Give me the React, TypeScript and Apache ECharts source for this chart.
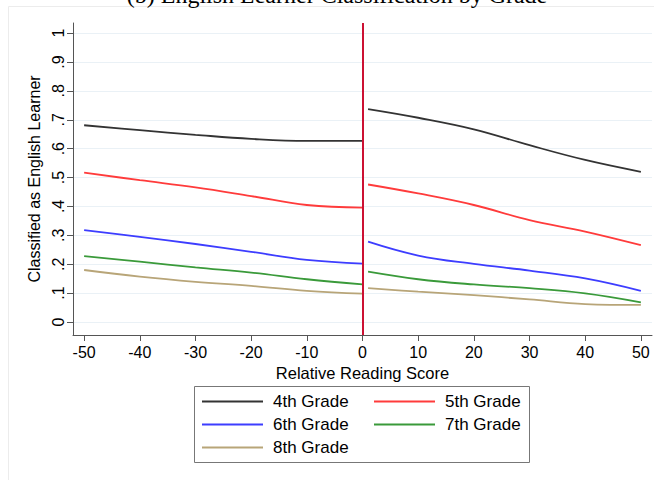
import React, { useEffect, useRef } from "react";
import * as echarts from "echarts";

// Running-variable positions on each side of the cutoff
const xLeft = [-50, -40, -30, -20, -10, 0];
const xRight = [1, 10, 20, 30, 40, 50];

// Share classified as English learner, by grade (left / right of cutoff)
const grade4Left = [0.681, 0.664, 0.648, 0.634, 0.627, 0.627];
const grade4Right = [0.737, 0.707, 0.667, 0.612, 0.561, 0.52];
const grade5Left = [0.517, 0.491, 0.466, 0.436, 0.405, 0.396];
const grade5Right = [0.476, 0.445, 0.405, 0.353, 0.313, 0.266];
const grade6Left = [0.318, 0.295, 0.27, 0.243, 0.215, 0.202];
const grade6Right = [0.278, 0.23, 0.201, 0.178, 0.151, 0.108];
const grade7Left = [0.228, 0.209, 0.189, 0.171, 0.148, 0.13];
const grade7Right = [0.174, 0.148, 0.13, 0.117, 0.099, 0.068];
const grade8Left = [0.18, 0.157, 0.139, 0.125, 0.108, 0.098];
const grade8Right = [0.117, 0.105, 0.093, 0.078, 0.062, 0.059];

const gradeNames = ["4th Grade", "5th Grade", "6th Grade", "7th Grade", "8th Grade"];
const gradeColors = ["#333333", "#ff3b3b", "#3d3dff", "#3a9a3a", "#b8a578"];

const xTicks = [-50, -40, -30, -20, -10, 0, 10, 20, 30, 40, 50];
const yTicks = [0, 0.1, 0.2, 0.3, 0.4, 0.5, 0.6, 0.7, 0.8, 0.9, 1];
const yTickLabels = ["0", ".1", ".2", ".3", ".4", ".5", ".6", ".7", ".8", ".9", "1"];

const titleText = "(b) English Learner Classification by Grade";
const xTitle = "Relative Reading Score";
const yTitle = "Classified as English Learner";

const FONT = "'Liberation Sans', Arial, sans-serif";

function pairs(xs: number[], ys: number[]) {
  return xs.map((x, i) => [x, ys[i]]);
}

export default function App() {
  const ref = useRef<HTMLDivElement>(null);

  useEffect(() => {
    if (!ref.current) return;
    const chart = echarts.init(ref.current, undefined, { renderer: "svg" });

    const sides: [number[], number[]][] = [
      [grade4Left, grade4Right],
      [grade5Left, grade5Right],
      [grade6Left, grade6Right],
      [grade7Left, grade7Right],
      [grade8Left, grade8Right],
    ];

    const series: any[] = [];
    sides.forEach(([left, right], g) => {
      [pairs(xLeft, left), pairs(xRight, right)].forEach((data, s) => {
        const item: any = {
          type: "line",
          name: gradeNames[g],
          data,
          smooth: 0.4,
          symbol: "none",
          color: gradeColors[g],
          lineStyle: { color: gradeColors[g], width: 1.8 },
          z: 3,
        };
        if (g === 0 && s === 0) {
          item.markLine = {
            silent: true,
            symbol: ["none", "none"],
            label: { show: false },
            lineStyle: { color: "#cc1133", width: 2, type: "solid" },
            data: [{ xAxis: 0 }],
          };
        }
        series.push(item);
      });
    });

    const legendText = {
      fontSize: 17,
      lineHeight: 17,
      color: "#000",
      fontFamily: FONT,
      padding: [0, 0, 0, 5],
    };

    const legendBase = {
      orient: "vertical",
      top: 393,
      padding: 0,
      icon: "rect",
      itemWidth: 61,
      itemHeight: 2,
      itemGap: 6,
      textStyle: legendText,
    };

    chart.setOption({
      animation: false,
      backgroundColor: "#ffffff",
      textStyle: { fontFamily: FONT },
      grid: { left: 73, right: 2, top: 23, bottom: 145, containLabel: false },
      xAxis: {
        type: "value",
        min: -52,
        max: 52,
        name: xTitle,
        nameLocation: "middle",
        nameGap: 26,
        nameTextStyle: { fontSize: 16.5, color: "#000", fontFamily: FONT },
        axisLine: { show: true, onZero: false, lineStyle: { color: "#555", width: 1 } },
        axisTick: { show: true, length: 6, customValues: xTicks, lineStyle: { color: "#555" } },
        axisLabel: { customValues: xTicks, fontSize: 16, color: "#000", margin: 9, fontFamily: FONT },
        splitLine: { show: false },
      },
      yAxis: {
        type: "value",
        min: -0.045,
        max: 1.035,
        name: yTitle,
        nameLocation: "middle",
        nameRotate: 90,
        nameGap: 26,
        nameTextStyle: { fontSize: 16, color: "#000", fontFamily: FONT },
        axisLine: { show: true, onZero: false, lineStyle: { color: "#555", width: 1 } },
        axisTick: { show: true, length: 6, customValues: yTicks, lineStyle: { color: "#555" } },
        axisLabel: {
          customValues: yTicks,
          rotate: 90,
          fontSize: 16,
          color: "#000",
          margin: 7,
          fontFamily: FONT,
          formatter: (v: number) => yTickLabels[Math.round(v * 10)],
        },
        splitLine: { show: true, lineStyle: { color: "#eaf1f6", width: 1 } },
      },
      legend: [
        { ...legendBase, left: 202, data: [gradeNames[0], gradeNames[2], gradeNames[4]] },
        { ...legendBase, left: 374, data: [gradeNames[1], gradeNames[3]] },
      ],
      graphic: [
        {
          type: "rect",
          silent: true,
          z: -10,
          shape: { x: 8.5, y: 6.5, width: 700, height: 520 },
          style: { fill: "none", stroke: "#ececec", lineWidth: 1 },
        },
        {
          type: "rect",
          silent: true,
          z: 1,
          shape: { x: 194.5, y: 386.5, width: 335, height: 76 },
          style: { fill: "none", stroke: "#777", lineWidth: 1 },
        },
        {
          type: "text",
          silent: true,
          x: 337,
          y: -5,
          style: {
            text: titleText,
            fontSize: 24,
            fontFamily: "'Liberation Serif', 'Times New Roman', serif",
            fill: "#000",
            align: "center",
            verticalAlign: "middle",
          },
        },
      ],
      series,
    });

    return () => chart.dispose();
  }, []);

  return (
    <div
      ref={ref}
      style={{ position: "absolute", left: 0, top: 0, width: 654, height: 480 }}
    />
  );
}
